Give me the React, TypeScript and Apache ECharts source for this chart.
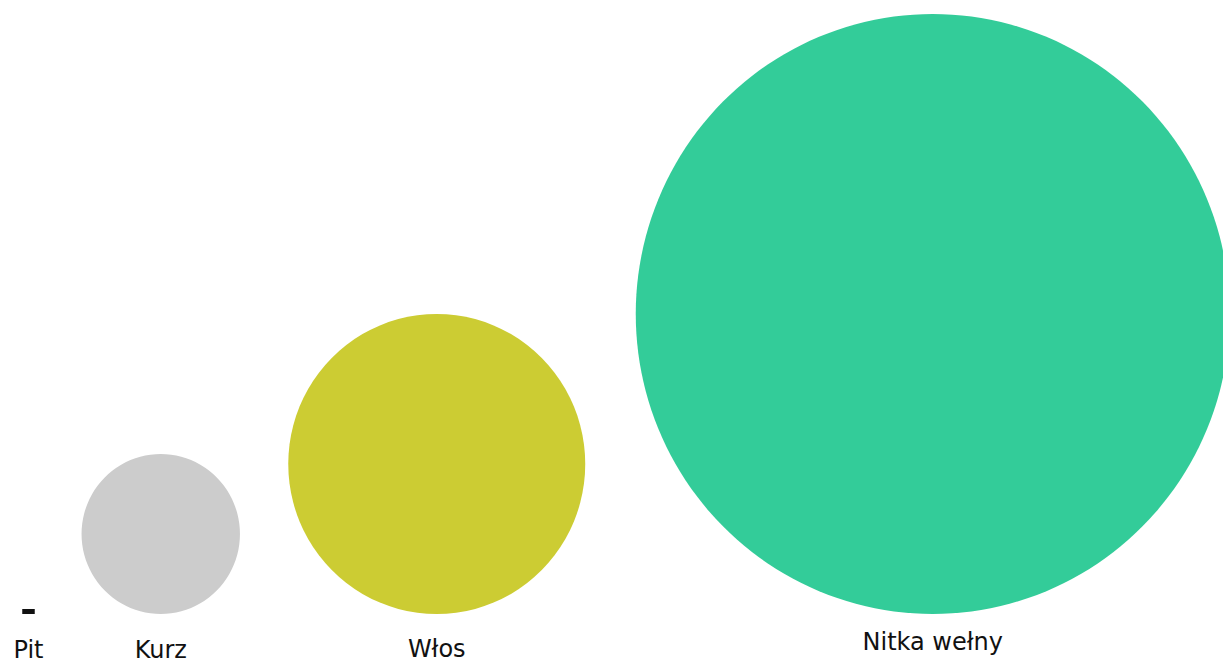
import React, { useEffect, useRef } from "react";
import * as echarts from "echarts";

// Objects compared by size (micrometres)
const names: string[] = ["Pit", "Kurz", "Włos", "Nitka wełny"];
const sizesUm: number[] = [2.5, 32, 60, 120];
const colors: string[] = ["#111111", "#cccccc", "#cccc33", "#33cc99"];
// label gap below each shape (px)
const labelGaps: number[] = [27, 27, 26, 19];

const PX_PER_UM = 5;
const GAP_UM = 9.2;
const START_UM = 4.45;
const WIDTH = 1223;
const HEIGHT = 664;
const BASELINE = 614;

export default function App() {
  const ref = useRef<HTMLDivElement>(null);
  useEffect(() => {
    if (!ref.current) return;
    const chart = echarts.init(ref.current, undefined, { renderer: "svg" });
    let cursor = START_UM;
    const data = sizesUm.map((s, i) => {
      const cx = cursor + s / 2;
      cursor += s + GAP_UM;
      const tiny = s * PX_PER_UM < 20;
      const h = tiny ? 5 : s * PX_PER_UM;
      const w = s * PX_PER_UM * (tiny ? 1 : 0.99);
      return {
        name: names[i],
        value: [cx, h / 2 / PX_PER_UM],
        symbol: tiny ? "rect" : "circle",
        symbolSize: [w, h],
        itemStyle: { color: colors[i], opacity: 1 },
        label: { distance: labelGaps[i] },
      };
    });
    chart.setOption({
      animation: false,
      grid: { left: 0, right: 0, top: 0, bottom: HEIGHT - BASELINE, containLabel: false },
      xAxis: { type: "value", min: 0, max: WIDTH / PX_PER_UM, show: false },
      yAxis: { type: "value", min: 0, max: BASELINE / PX_PER_UM, show: false },
      series: [
        {
          type: "scatter",
          silent: true,
          itemStyle: { opacity: 1 },
          data,
          label: {
            show: true,
            position: "bottom",
            formatter: "{b}",
            fontFamily: "DejaVu Sans",
            fontSize: 24,
            lineHeight: 18,
            color: "#111111",
            opacity: 1,
          },
        },
      ],
    });
    return () => chart.dispose();
  }, []);
  return (
    <div
      ref={ref}
      style={{ position: "absolute", left: 0, top: 0, width: WIDTH, height: HEIGHT, background: "#ffffff" }}
    />
  );
}
